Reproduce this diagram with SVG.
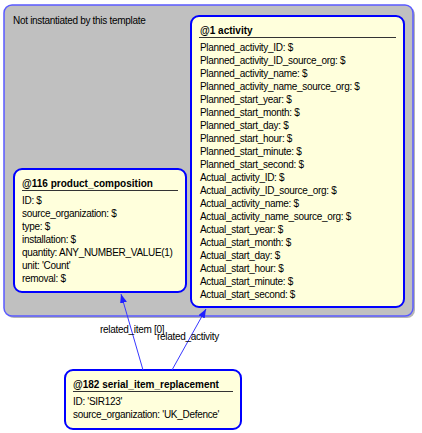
<svg xmlns="http://www.w3.org/2000/svg" width="422" height="433" viewBox="0 0 422 433">
<style>
.t{font-family:"Liberation Sans",Arial,sans-serif;font-size:10px;letter-spacing:-0.3px;fill:#000}
.b{font-family:"Liberation Sans",Arial,sans-serif;font-size:10px;font-weight:bold;fill:#000}
.box{fill:#ffffdc;stroke:#0000ff;stroke-width:2}
.ul{stroke:#333;stroke-width:1}
.con{stroke:#3838ff;stroke-width:1;fill:none}
</style>
<defs>
<marker id="arr" markerUnits="userSpaceOnUse" markerWidth="10" markerHeight="8" refX="9" refY="3.5" orient="auto">
<path d="M0,0 L9,3.5 L0,7 z" fill="#2020ff"/>
</marker>
</defs>
<rect width="422" height="433" fill="#fff"/>
<g id="template">
<rect x="6" y="7" width="409" height="311" rx="8" fill="#b4b4b4"/>
<rect x="4" y="5" width="409" height="311" rx="8" fill="#c0c0c0" stroke="#5a5aff" stroke-width="1.5"/>
<text class="t" x="13" y="23.5">Not instantiated by this template</text>
</g>
<g id="activity">
<rect class="box" x="191" y="16" width="213" height="291" rx="8"/>
<text class="b" x="200" y="33.5">@1 activity</text>
<line class="ul" x1="199" y1="37.5" x2="396" y2="37.5"/>
<text class="t" x="200" y="50.5">Planned_activity_ID: $</text>
<text class="t" x="200" y="63.5">Planned_activity_ID_source_org: $</text>
<text class="t" x="200" y="76.5">Planned_activity_name: $</text>
<text class="t" x="200" y="89.5">Planned_activity_name_source_org: $</text>
<text class="t" x="200" y="102.5">Planned_start_year: $</text>
<text class="t" x="200" y="115.5">Planned_start_month: $</text>
<text class="t" x="200" y="128.5">Planned_start_day: $</text>
<text class="t" x="200" y="141.5">Planned_start_hour: $</text>
<text class="t" x="200" y="154.5">Planned_start_minute: $</text>
<text class="t" x="200" y="167.5">Planned_start_second: $</text>
<text class="t" x="200" y="180.5">Actual_activity_ID: $</text>
<text class="t" x="200" y="193.5">Actual_activity_ID_source_org: $</text>
<text class="t" x="200" y="206.5">Actual_activity_name: $</text>
<text class="t" x="200" y="219.5">Actual_activity_name_source_org: $</text>
<text class="t" x="200" y="232.5">Actual_start_year: $</text>
<text class="t" x="200" y="245.5">Actual_start_month: $</text>
<text class="t" x="200" y="258.5">Actual_start_day: $</text>
<text class="t" x="200" y="271.5">Actual_start_hour: $</text>
<text class="t" x="200" y="284.5">Actual_start_minute: $</text>
<text class="t" x="200" y="297.5">Actual_start_second: $</text>
</g>
<g id="product_composition">
<rect class="box" x="14" y="169" width="172" height="123" rx="8"/>
<text class="b" x="22" y="186.5">@116 product_composition</text>
<line class="ul" x1="22" y1="190.5" x2="178" y2="190.5"/>
<text class="t" x="22" y="203.5">ID: $</text>
<text class="t" x="22" y="216.5">source_organization: $</text>
<text class="t" x="22" y="229.5">type: $</text>
<text class="t" x="22" y="242.5">installation: $</text>
<text class="t" x="22" y="255.5">quantity: ANY_NUMBER_VALUE(1)</text>
<text class="t" x="22" y="268.5">unit: 'Count'</text>
<text class="t" x="22" y="281.5">removal: $</text>
</g>
<g id="serial_item_replacement">
<rect class="box" x="65" y="370" width="176" height="59" rx="8"/>
<text class="b" x="73" y="387.5">@182 serial_item_replacement</text>
<line class="ul" x1="73" y1="391.5" x2="233" y2="391.5"/>
<text class="t" x="73" y="404.5">ID: 'SIR123'</text>
<text class="t" x="73" y="417.5">source_organization: 'UK_Defence'</text>
</g>
<g id="connectors">
<line class="con" x1="143" y1="370" x2="121" y2="294" marker-end="url(#arr)"/>
<line class="con" x1="172" y1="370" x2="206" y2="309" marker-end="url(#arr)"/>
<text class="t" x="100" y="332.5">related_item [0]</text>
<text class="t" x="157" y="340">related_activity</text>
</g>
</svg>
